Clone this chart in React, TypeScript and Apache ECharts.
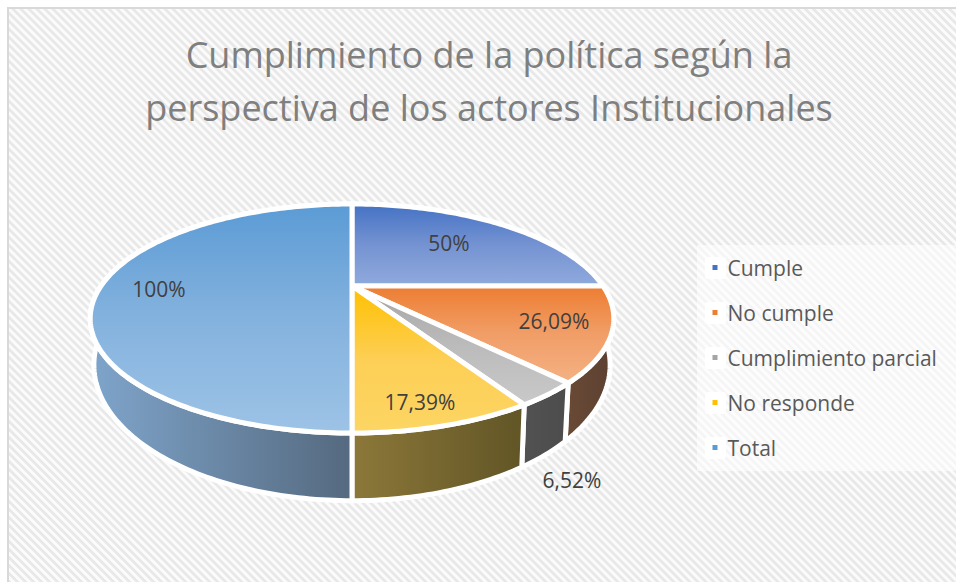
import React, { useEffect, useRef } from "react";
import * as echarts from "echarts";

const categories = ["Cumple", "No cumple", "Cumplimiento parcial", "No responde", "Total"];
const values = [50, 26.09, 6.52, 17.39, 100];
const labels = ["50%", "26,09%", "6,52%", "17,39%", "100%"];
const titleLines = ["Cumplimiento de la política según la", "perspectiva de los actores Institucionales"];

const baseColors = ["#4472C4", "#ED7D31", "#A5A5A5", "#FFC000", "#5B9BD5"];
const midColors = ["#7593D2", "#F19E68", "#BBBBBB", "#FDCF55", "#84B2DE"];
const lightColors = ["#8FAADC", "#F4B183", "#C9C9C9", "#FCD563", "#9DC3E6"];
const wallStart = ["#2F4F86", "#6A4A36", "#525252", "#8C7839", "#7FA5CB"];
const wallEnd = ["#2F4F86", "#5C4031", "#4C4C4C", "#615526", "#55697F"];
const labelAnchors = [[449, 243], [554, 321], [572, 480], [420, 402], [159, 289]];

// perspective disc: top rim and bottom rim of the 3D pie
const K = 0.284;
const top = { cx: 352, cy: 286, rx: 251, ry: 105.3 };
const bottom = { cx: 352, cy: 326.4, rx: 247.5, ry: 124.8 };

const project = (rim: typeof top, deg: number) => {
  const t = (deg * Math.PI) / 180;
  const u = Math.sin(t);
  const v = -Math.cos(t);
  const w = 1 - K * v;
  return [rim.cx + (rim.rx * u) / w, rim.cy + (rim.ry * v) / w];
};

const arc = (rim: typeof top, a: number, b: number) => {
  const pts: number[][] = [];
  const n = Math.max(2, Math.ceil(Math.abs(b - a)));
  for (let i = 0; i <= n; i++) pts.push(project(rim, a + ((b - a) * i) / n));
  return pts;
};

const totalValue = values.reduce((s, v) => s + v, 0);
const spans = values.map((_, i) => {
  const before = values.slice(0, i).reduce((s, v) => s + v, 0);
  return [(before / totalValue) * 360, ((before + values[i]) / totalValue) * 360];
});

const wallFill = (c0: string, c1: string) =>
  new echarts.graphic.LinearGradient(0, 0, 1, 0, [
    { offset: 0, color: c0 },
    { offset: 1, color: c1 },
  ]);
const faceFill = (c0: string, c1: string, c2: string) =>
  new echarts.graphic.LinearGradient(0, 0, 0, 1, [
    { offset: 0, color: c0 },
    { offset: 0.5, color: c1 },
    { offset: 1, color: c2 },
  ]);

const makeSeries = (i: number) => ({
  type: "custom",
  name: categories[i],
  coordinateSystem: "none",
  silent: true,
  itemStyle: { color: baseColors[i] },
  data: [[spans[i][0], spans[i][1], values[i]]],
  renderItem: (_: any, api: any) => {
    const a = api.value(0);
    const b = api.value(1);
    const wall = [...arc(top, a, b), ...arc(bottom, b, a)];
    const face = [[top.cx, top.cy], ...arc(top, a, b)];
    return {
      type: "group",
      children: [
        {
          type: "polygon",
          z2: 1,
          shape: { points: wall },
          style: { fill: wallFill(wallStart[i], wallEnd[i]), stroke: "#fff", lineWidth: 5, lineJoin: "round" },
        },
        {
          type: "polygon",
          z2: 10,
          shape: { points: face },
          style: { fill: faceFill(baseColors[i], midColors[i], lightColors[i]), stroke: "#fff", lineWidth: 5, lineJoin: "round" },
        },
        {
          type: "text",
          z2: 20,
          style: {
            x: labelAnchors[i][0],
            y: labelAnchors[i][1],
            text: labels[i],
            fill: "#404040",
            font: '21px "Open Sans"',
            align: "center",
            verticalAlign: "middle",
          },
        },
      ],
    };
  },
});

const patchRows = [0, 1, 2, 3, 4];

export default function App() {
  const ref = useRef<HTMLDivElement>(null);
  useEffect(() => {
    const chart = echarts.init(ref.current!, null, { renderer: "svg" });
    chart.setOption({
      animation: false,
      backgroundColor: "transparent",
      title: {
        text: titleLines.join("\n"),
        left: 484,
        top: 23,
        textAlign: "center",
        textStyle: {
          fontFamily: "Open Sans",
          fontSize: 36,
          fontWeight: "normal",
          color: "#7F7F7F",
          lineHeight: 53,
        },
      },
      legend: {
        orient: "vertical",
        left: 712.5,
        top: 255,
        itemWidth: 5,
        itemHeight: 5,
        itemGap: 20,
        icon: "rect",
        selectedMode: false,
        padding: 0,
        data: categories,
        textStyle: {
          fontFamily: "Open Sans",
          fontSize: 21,
          color: "#595959",
          lineHeight: 25,
          padding: [0, 0, 0, 5],
        },
      },
      graphic: [
        {
          type: "rect",
          z: -1,
          silent: true,
          shape: { x: 697, y: 245, width: 259, height: 226 },
          style: { fill: "rgba(255,255,255,0.55)" },
        },
        ...patchRows.map((r) => ({
          type: "rect",
          z: -1,
          silent: true,
          shape: { x: 705, y: 257 + r * 45, width: 21, height: 22, r: 3 },
          style: { fill: "#fff" },
        })),
      ],
      series: categories.map((_, i) => makeSeries(i)),
    });
    return () => chart.dispose();
  }, []);
  return (
    <div style={{ position: "absolute", left: 0, top: 0, width: 956, height: 582, background: "#fff", overflow: "hidden" }}>
      <div
        style={{
          position: "absolute",
          left: 7,
          top: 7,
          width: 960,
          height: 590,
          boxSizing: "border-box",
          border: "2px solid #D9D9D9",
          background:
            "repeating-linear-gradient(45deg, #fbfbfb 0px, #fbfbfb 2.2px, #e8e8e8 3px, #e8e8e8 5px, #fbfbfb 5.66px)",
        }}
      />
      <div ref={ref} style={{ position: "absolute", left: 0, top: 0, width: 956, height: 582 }} />
    </div>
  );
}
